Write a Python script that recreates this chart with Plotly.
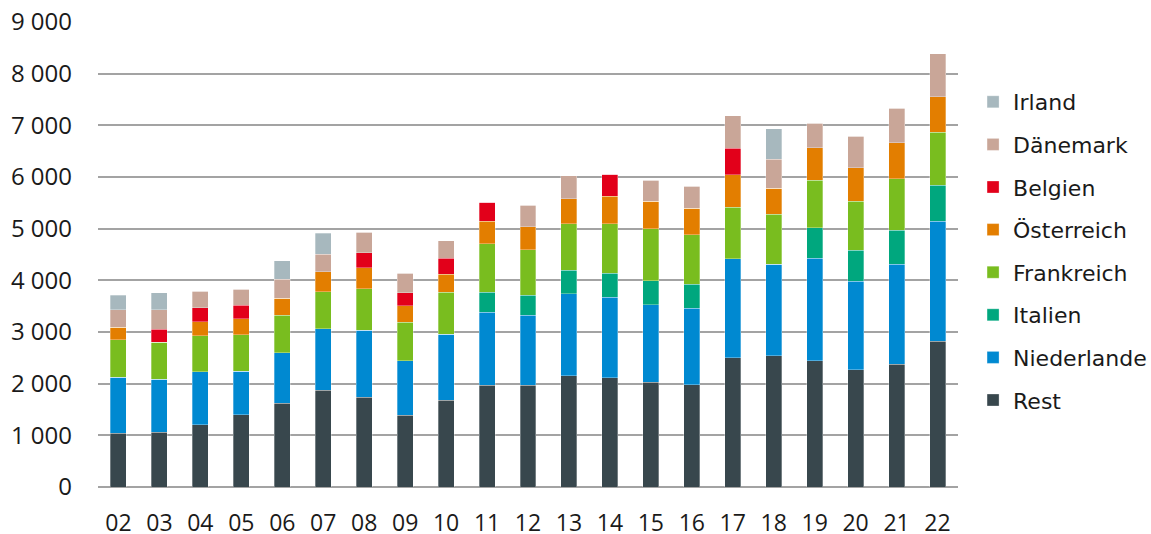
import plotly.graph_objects as go

years = ["02", "03", "04", "05", "06", "07", "08", "09", "10", "11", "12",
         "13", "14", "15", "16", "17", "18", "19", "20", "21", "22"]

rest = [1045, 1058, 1206, 1400, 1619, 1875, 1733, 1385, 1682, 1965, 1965,
        2157, 2118, 2028, 1983, 2505, 2542, 2439, 2271, 2374, 2819]
niederlande = [1084, 1032, 1026, 845, 975, 1192, 1302, 1057, 1275, 1418, 1360,
               1584, 1552, 1501, 1475, 1912, 1768, 1987, 1710, 1936, 2323]
italien = [0, 0, 0, 0, 0, 0, 0, 0, 0, 386, 386,
           451, 470, 463, 463, 0, 0, 593, 600, 658, 703]
frankreich = [723, 710, 697, 703, 729, 715, 805, 747, 812, 941, 883,
              901, 960, 1005, 966, 998, 967, 916, 954, 1000, 1020]
oesterreich = [238, 0, 265, 304, 335, 387, 400, 316, 348, 438, 445,
               483, 528, 534, 509, 630, 504, 633, 646, 697, 690]
belgien = [0, 252, 271, 264, 0, 0, 290, 258, 310, 367, 0,
           0, 425, 0, 0, 509, 0, 0, 0, 0, 0]
daenemark = [336, 381, 322, 310, 361, 335, 399, 374, 335, 0, 412,
             445, 0, 406, 425, 634, 561, 477, 606, 664, 826]
irland = [284, 329, 0, 0, 362, 406, 0, 0, 0, 0, 0,
          0, 0, 0, 0, 0, 593, 0, 0, 0, 0]

series = [
    ("Rest", rest, "#38474d"),
    ("Niederlande", niederlande, "#0089d1"),
    ("Italien", italien, "#00a77e"),
    ("Frankreich", frankreich, "#79bd1f"),
    ("Österreich", oesterreich, "#e37e00"),
    ("Belgien", belgien, "#e2001a"),
    ("Dänemark", daenemark, "#c9a698"),
    ("Irland", irland, "#a7b8be"),
]

fig = go.Figure()
n = len(series)
for i, (name, vals, col) in enumerate(series):
    fig.add_trace(go.Bar(
        x=years, y=vals, name=name, legendgroup=name, legendrank=n - i,
        marker=dict(color=col, line=dict(color="rgba(255,255,255,0.5)", width=0.6)),
    ))

font_family = "Open Sans, DejaVu Sans, sans-serif"

fig.update_layout(
    width=1151, height=534,
    barmode="stack", bargap=0.61,
    plot_bgcolor="white", paper_bgcolor="white",
    margin=dict(l=98, r=193, t=22, b=47, autoexpand=False),
    separators=", ",
    showlegend=True,
    legend=dict(
        traceorder="grouped", tracegroupgap=11,
        xref="container", yref="container",
        x=0.8454, xanchor="left", y=0.8483, yanchor="top",
        maxheight=480,
        font=dict(family="DejaVu Sans, Verdana, sans-serif", size=22, color="#1a1a1a"),
        bgcolor="rgba(0,0,0,0)",
    ),
    xaxis=dict(
        type="category", showgrid=False, showline=False, ticks="",
        tickfont=dict(family=font_family, size=23, color="#1a1a1a"),
        ticklabelstandoff=20, automargin=False,
    ),
    yaxis=dict(
        range=[0, 9000], dtick=1000, tickformat=",d",
        showgrid=True, gridcolor="#a3a3a3", gridwidth=1.6,
        zeroline=True, zerolinecolor="#a3a3a3", zerolinewidth=1.6,
        showline=False, ticks="",
        tickfont=dict(family=font_family, size=24, color="#1a1a1a"),
        ticklabelstandoff=25, automargin=False,
    ),
)

fig.write_html(
    "out.html",
    config={"displayModeBar": False},
    post_script="document.body.style.margin='0';document.body.style.overflow='hidden';",
)
